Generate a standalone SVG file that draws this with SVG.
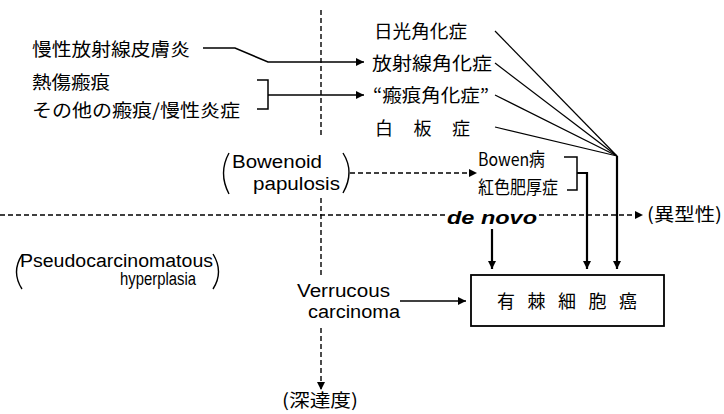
<svg xmlns="http://www.w3.org/2000/svg" width="724" height="414" viewBox="0 0 724 414">
<style>
.jp{font-family:"Noto Sans CJK JP","Noto Sans CJK SC",sans-serif;font-size:18px;fill:#000}
.en{font-family:"Liberation Sans",Arial,sans-serif;font-size:18px;fill:#000}
.ln{fill:none;stroke:#000;stroke-width:1.5}
.thin{fill:none;stroke:#000;stroke-width:1.2}
.thick{fill:none;stroke:#000;stroke-width:2.2}
.dash{fill:none;stroke:#000;stroke-width:1.4;stroke-dasharray:5 3}
.par{fill:none;stroke:#000;stroke-width:1.4}
</style>
<defs>
<marker id="ah" markerUnits="userSpaceOnUse" markerWidth="9" markerHeight="8" refX="8" refY="4" orient="auto">
<path d="M0,0 L8,4 L0,8 z" fill="#000"/>
</marker>
</defs>
<rect width="724" height="414" fill="#fff"/>

<g id="connectors">
<path class="dash" d="M321,10 V138"/>
<path class="dash" d="M321,198 V276"/>
<path class="dash" d="M321,328 V390" marker-end="url(#ah)"/>
<path class="dash" d="M0,215 H446"/>
<path class="dash" d="M539,215 H643" marker-end="url(#ah)"/>
<path class="dash" d="M350,173 H477" marker-end="url(#ah)"/>
<path class="ln" d="M203,48 H235 L268,62 H364" marker-end="url(#ah)"/>
<path class="ln" d="M257,80 H268 V109 H257"/>
<path class="ln" d="M268,95 H364" marker-end="url(#ah)"/>
<path class="thin" d="M495,31 L617,156"/>
<path class="thin" d="M495,63 L617,156"/>
<path class="thin" d="M495,95 L617,156"/>
<path class="thin" d="M495,127 L617,156"/>
<path class="thick" d="M617,156 V269" marker-end="url(#ah)"/>
<path class="ln" d="M564,157 H577 V190 H567"/>
<path class="thick" d="M577,173 H587 V269" marker-end="url(#ah)"/>
<path class="thick" d="M492,229 V269" marker-end="url(#ah)"/>
<path class="ln" d="M400,301 H466" marker-end="url(#ah)"/>
</g>

<g id="n-mansei"><text class="jp" x="32" y="56" textLength="158" lengthAdjust="spacingAndGlyphs">慢性放射線皮膚炎</text></g>
<g id="n-nessho"><text class="jp" x="32" y="89" textLength="78" lengthAdjust="spacingAndGlyphs">熱傷瘢痕</text></g>
<g id="n-sonota"><text class="jp" x="32" y="117" textLength="208" lengthAdjust="spacingAndGlyphs">その他の瘢痕/慢性炎症</text></g>
<g id="n-nikko"><text class="jp" x="374" y="38" textLength="93" lengthAdjust="spacingAndGlyphs">日光角化症</text></g>
<g id="n-hoshasen"><text class="jp" x="372" y="70" textLength="120" lengthAdjust="spacingAndGlyphs">放射線角化症</text></g>
<g id="n-hanko"><text class="jp" x="373" y="102" textLength="116" lengthAdjust="spacingAndGlyphs">“瘢痕角化症”</text></g>
<g id="n-hakuban"><text class="jp" x="375" y="135" textLength="95" lengthAdjust="spacing">白 板 症</text></g>
<g id="n-bowen"><text class="jp" x="478" y="166" font-size="15" textLength="67" lengthAdjust="spacingAndGlyphs">Bowen病</text></g>
<g id="n-kosyoku"><text class="jp" x="478" y="194" font-size="15" textLength="80" lengthAdjust="spacingAndGlyphs">紅色肥厚症</text></g>
<g id="n-bowenoid">
<path class="par" d="M229,153 Q218,173 229,194"/>
<text class="en" x="232" y="168" textLength="90" lengthAdjust="spacingAndGlyphs">Bowenoid</text>
<text class="en" x="253" y="190" textLength="87" lengthAdjust="spacingAndGlyphs">papulosis</text>
<path class="par" d="M343,153 Q355,172 343,193"/>
</g>
<g id="n-denovo"><text class="en" x="447" y="224" font-size="22" font-style="italic" font-weight="bold" textLength="90" lengthAdjust="spacingAndGlyphs">de novo</text></g>
<g id="n-ikeisei"><text class="jp" x="647" y="221" font-size="16" textLength="75" lengthAdjust="spacingAndGlyphs">(異型性)</text></g>
<g id="n-pseudo">
<path class="par" d="M22,255 Q11,272 22,289"/>
<text class="en" x="20" y="267" textLength="193" lengthAdjust="spacingAndGlyphs">Pseudocarcinomatous</text>
<text class="en" x="120" y="285" textLength="76" lengthAdjust="spacingAndGlyphs">hyperplasia</text>
<path class="par" d="M213,254 Q224,272 213,289"/>
</g>
<g id="n-verrucous">
<text class="en" x="297" y="297" textLength="93" lengthAdjust="spacingAndGlyphs">Verrucous</text>
<text class="en" x="308" y="318" textLength="92" lengthAdjust="spacingAndGlyphs">carcinoma</text>
</g>
<g id="n-scc">
<rect x="471" y="275" width="193" height="51" fill="#fff" stroke="#000" stroke-width="1.8"/>
<text class="jp" x="497" y="308" font-size="17" textLength="140" lengthAdjust="spacing">有 棘 細 胞 癌</text>
</g>
<g id="n-shintatsu"><text class="jp" x="282" y="407" font-size="16" textLength="76" lengthAdjust="spacingAndGlyphs">(深達度)</text></g>
</svg>
